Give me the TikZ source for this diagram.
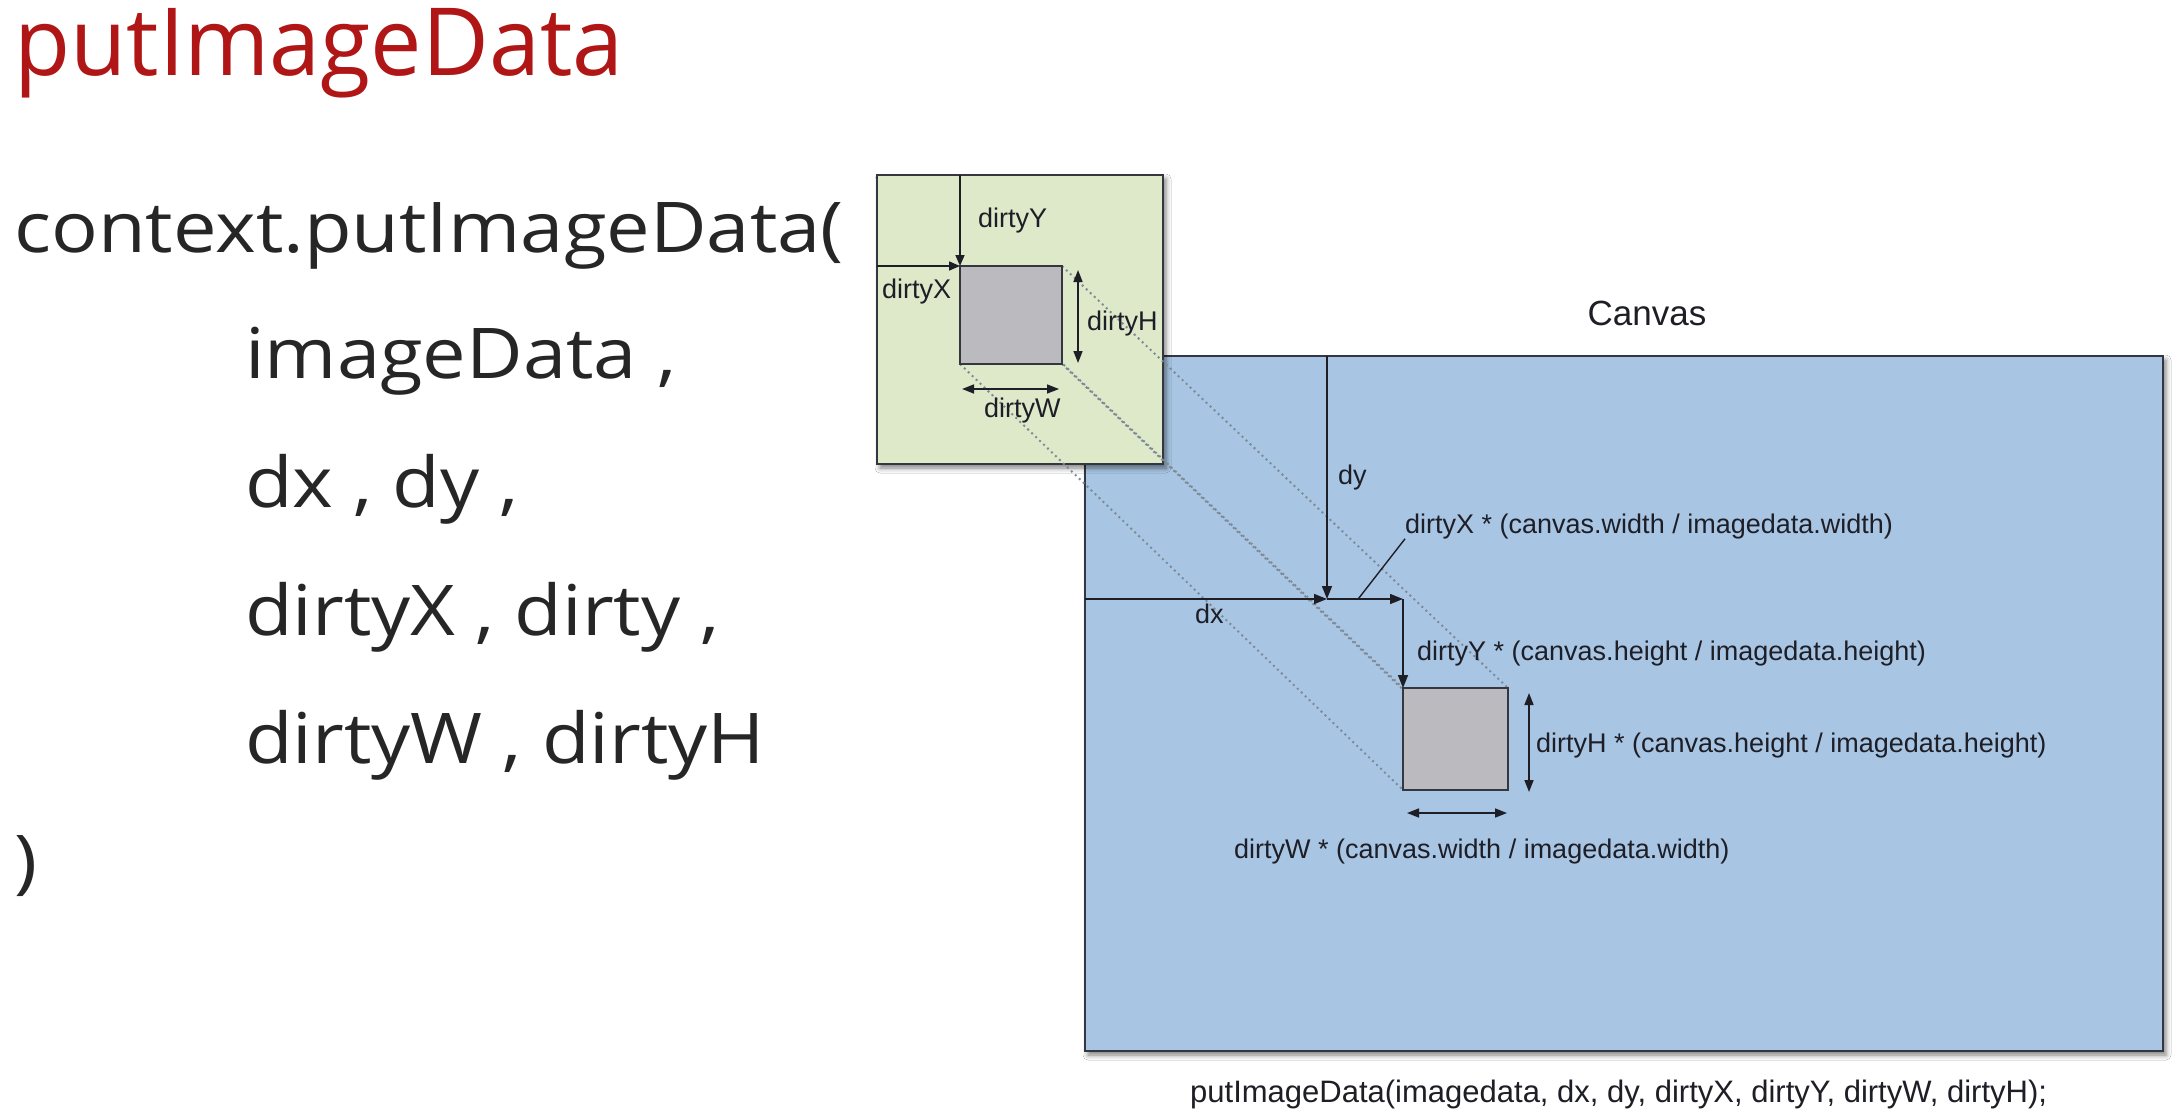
\documentclass[tikz,border=0pt]{standalone}
\usepackage{fontspec}
\setmainfont{Liberation Sans}
\newfontfamily\slidefont{Open Sans}
\usetikzlibrary{arrows.meta,shadows.blur,calc}

\definecolor{titlered}{RGB}{176,22,22}
\definecolor{codeink}{RGB}{38,38,38}
\definecolor{ink}{RGB}{30,30,38}
\definecolor{frame}{RGB}{52,54,64}
\definecolor{imgfill}{RGB}{221,233,201}
\definecolor{canvasfill}{RGB}{168,198,228}
\definecolor{dirtyfill}{RGB}{186,186,191}
\definecolor{guidecol}{RGB}{128,138,150}

\pgfdeclarelayer{boxes}
\pgfdeclarelayer{guides}
\pgfsetlayers{boxes,guides,main}

% wide slide lettering
\newcommand{\wideline}[1]{\scalebox{1.11}[1]{#1}}

\begin{document}
\begin{tikzpicture}[x=1pt,y=-1pt,
  codeline/.style={anchor=base west, inner sep=0pt, text=codeink,
    font=\slidefont\fontsize{70}{84}\selectfont},
  slidetitle/.style={anchor=base west, inner sep=0pt, text=titlered,
    font=\slidefont\fontsize{94}{110}\selectfont},
  tag/.style={anchor=base west, inner sep=0pt, text=ink,
    font=\fontsize{27}{32}\selectfont},
  smalltag/.style={tag, font=\fontsize{27}{32}\selectfont},
  panel/.style={draw=frame, line width=2.4pt, inner sep=0pt, outer sep=0pt,
    blur shadow={shadow xshift=3pt, shadow yshift=-4pt,
      shadow blur radius=5pt, shadow opacity=50}},
  imgbox/.style={panel, fill=imgfill},
  canvasbox/.style={panel, fill=canvasfill},
  dirtybox/.style={draw=frame, line width=2pt, fill=dirtyfill,
    inner sep=0pt, outer sep=0pt},
  guide/.style={draw=guidecol, line width=2pt, dash pattern=on 2pt off 3.5pt},
  dim/.style={draw=ink, line width=1.6pt, -{Triangle[length=13pt,width=10pt]}},
  smalldim/.style={draw=ink, line width=1.6pt, -{Triangle[length=11pt,width=9pt]}},
  dimboth/.style={draw=ink, line width=1.6pt,
    {Triangle[length=12pt,width=9pt]}-{Triangle[length=12pt,width=9pt]}},
  leader/.style={draw=ink, line width=1.4pt}]

\useasboundingbox (0,0) rectangle (2182,1116);

% ---------- slide text ----------
\node[slidetitle] (title) at (14,75) {\scalebox{0.975}[1]{putImageData}};
\node[codeline] (c1) at (14,252) {\wideline{context.putImageData(}};
\node[codeline] (c2) at (245,378) {\wideline{imageData ,}};
\node[codeline] (c3) at (245,507) {\wideline{dx , dy ,}};
\node[codeline] (c4) at (245,635) {\wideline{dirtyX , dirty ,}};
\node[codeline] (c5) at (245,763) {\wideline{dirtyW , dirtyH}};
\node[codeline] (c6) at (14,885) {\wideline{)}};

% ---------- the two panels ----------
\begin{pgfonlayer}{boxes}
  \fill[white] (0,0) rectangle (2182,1116);
  \node[canvasbox, minimum width=1078pt, minimum height=695pt] (cv) at (1624,703.5) {};
  \node[imgbox, minimum width=286pt, minimum height=289pt] (img) at (1020,319.5) {};
\end{pgfonlayer}

\node[font=\fontsize{35}{42}\selectfont, text=ink, inner sep=0pt] (cvname) at (1647,313) {Canvas};

% dirty rectangles: source and destination
\node[dirtybox, minimum width=102pt, minimum height=98pt] (sub) at (1011,315) {};
\node[dirtybox, minimum width=105pt, minimum height=102pt] (dst) at (1455.5,739) {};

% projection guides between matching corners
\begin{pgfonlayer}{guides}
  \foreach \c in {north west, north east, south west, south east}
    \draw[guide] (sub.\c) -- (dst.\c);
\end{pgfonlayer}

% ---------- image data dimensions ----------
\draw[smalldim] (sub.north west |- img.north) -- (sub.north west);
\draw[smalldim] (img.west |- sub.north west) -- (sub.north west);
\coordinate (hA) at (1078,270);
\coordinate (hB) at (1078,363);
\draw[dimboth] (hA) -- (hB);
\coordinate (wA) at (962,389);
\coordinate (wB) at (1059,389);
\draw[dimboth] (wA) -- (wB);

\node[smalltag] (sY) at (978,227) {dirtyY};
\node[smalltag] (sX) at (882,298) {dirtyX};
\node[smalltag] (sH) at (1087,330) {dirtyH};
\node[smalltag] (sW) at (984,417) {dirtyW};

% ---------- canvas dimensions ----------
\coordinate (p) at (1327,599);
\coordinate (q) at (p -| dst.north west);
\draw[dim] (p |- cv.north) -- (p);
\draw[dim] (cv.west |- p) -- (p);
\draw[dim] (p) -- (q);
\draw[dim] (q) -- (dst.north west);
\coordinate (dH1) at (1529,693);
\coordinate (dH2) at (1529,792);
\draw[dimboth] (dH1) -- (dH2);
\coordinate (dW1) at (1407,813);
\coordinate (dW2) at (1507,813);
\draw[dimboth] (dW1) -- (dW2);

\node[tag] (ldy) at (1338,484) {dy};
\node[tag] (ldx) at (1195,623) {dx};
\node[tag] (lX) at (1405,533) {dirtyX * (canvas.width / imagedata.width)};
\node[tag] (lY) at (1417,660) {dirtyY * (canvas.height / imagedata.height)};
\node[tag] (lH) at (1536,752) {dirtyH * (canvas.height / imagedata.height)};
\node[tag] (lW) at (1234,858) {dirtyW * (canvas.width / imagedata.width)};
\draw[leader] ($(p)!0.41!(q)$) -- (lX.south west);

\node[tag, font=\fontsize{31}{36}\selectfont] (call) at (1190,1102)
  {putImageData(imagedata, dx, dy, dirtyX, dirtyY, dirtyW, dirtyH);};

\end{tikzpicture}
\end{document}
